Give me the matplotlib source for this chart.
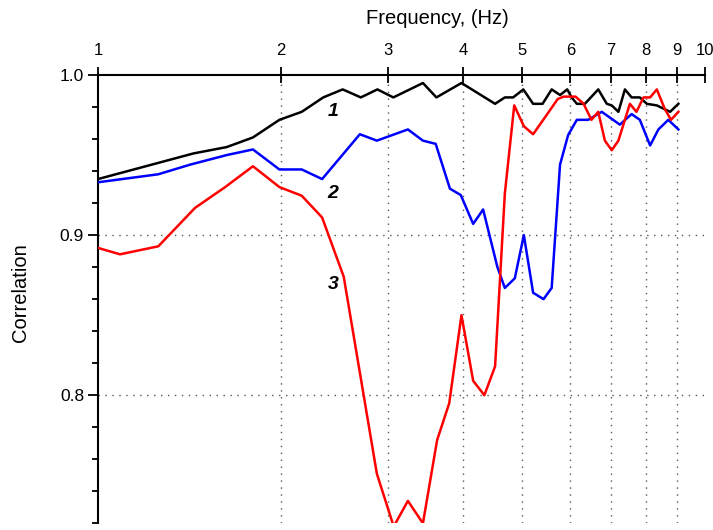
import matplotlib
matplotlib.use("Agg")
import matplotlib.pyplot as plt
from matplotlib.ticker import FixedLocator, NullLocator, MultipleLocator

plt.rcParams['font.family'] = ['Liberation Sans', 'DejaVu Sans']

# curve 1 (black)
f1 = [1.0, 1.436, 1.63, 1.80, 1.99, 2.166, 2.35, 2.53, 2.71, 2.886, 3.066, 3.43, 3.61, 3.97,
      4.51, 4.68, 4.83, 5.02, 5.21, 5.40, 5.59, 5.77, 5.93, 6.03, 6.15, 6.34, 6.67, 6.89,
      7.02, 7.20, 7.38, 7.57, 7.81, 8.02, 8.33, 8.76, 9.04]
c1 = [0.935, 0.951, 0.955, 0.961, 0.972, 0.977, 0.986, 0.991, 0.986, 0.991, 0.986, 0.995, 0.986, 0.995,
      0.982, 0.986, 0.986, 0.991, 0.982, 0.982, 0.991, 0.9875, 0.991, 0.986, 0.982, 0.982, 0.991, 0.982,
      0.981, 0.977, 0.991, 0.986, 0.986, 0.982, 0.981, 0.977, 0.982]

# curve 2 (blue)
f2 = [1.0, 1.257, 1.418, 1.63, 1.80, 1.99, 2.166, 2.34, 2.70, 2.88, 3.24, 3.43, 3.60, 3.80, 3.96,
      4.15, 4.31, 4.55, 4.68, 4.86, 5.03, 5.21, 5.42, 5.59, 5.77, 5.95, 6.15, 6.42, 6.76, 7.24,
      7.57, 7.81, 8.12, 8.38, 8.70, 9.04]
c2 = [0.933, 0.938, 0.944, 0.950, 0.9535, 0.941, 0.941, 0.935, 0.963, 0.959, 0.966, 0.959, 0.957, 0.929, 0.925,
      0.907, 0.916, 0.880, 0.867, 0.873, 0.900, 0.864, 0.860, 0.867, 0.944, 0.9625, 0.972, 0.972, 0.977, 0.969,
      0.9756, 0.972, 0.956, 0.966, 0.972, 0.966]

# curve 3 (red)
f3 = [1.0, 1.087, 1.257, 1.445, 1.62, 1.80, 1.99, 2.166, 2.34, 2.54, 2.88, 3.07, 3.24, 3.43, 3.62,
      3.79, 3.97, 4.15, 4.33, 4.51, 4.68, 4.85, 5.03, 5.21, 5.46, 5.72, 5.85, 6.12, 6.31, 6.50,
      6.67, 6.84, 7.02, 7.20, 7.52, 7.71, 7.92, 8.12, 8.33, 8.58, 8.79, 9.04]
c3 = [0.892, 0.888, 0.893, 0.917, 0.930, 0.943, 0.930, 0.9246, 0.911, 0.874, 0.751, 0.718, 0.734, 0.720, 0.772,
      0.795, 0.850, 0.809, 0.800, 0.818, 0.926, 0.981, 0.968, 0.963, 0.974, 0.985, 0.9865, 0.9865, 0.982, 0.972,
      0.977, 0.959, 0.953, 0.959, 0.982, 0.977, 0.986, 0.986, 0.991, 0.979, 0.972, 0.977]

xticks = [1, 2, 3, 4, 5, 6, 7, 8, 9, 10]
yticks = [0.8, 0.9, 1.0]
curve_labels = ['1', '2', '3']
label_pos = [(2.44, 0.977), (2.44, 0.926), (2.44, 0.869)]

fig = plt.figure(figsize=(7.13, 5.30), dpi=100)
ax = fig.add_axes([98 / 713, 1 - 523.3 / 530, 607 / 713, (523.3 - 75) / 530])

ax.plot(f1, c1, color='black', lw=1.8, zorder=3)
ax.plot(f2, c2, color='#0000ff', lw=1.8, zorder=4)
ax.plot(f3, c3, color='#ff0000', lw=1.8, zorder=5)

for lab, (x, y) in zip(curve_labels, label_pos):
    ax.text(x, y, lab, fontsize=14, fontweight='bold', fontstyle='italic',
            ha='center', va='center', zorder=6)

ax.set_xscale('log')
ax.set_xlim(1, 10)
ax.set_ylim(0.72, 1.0)

ax.xaxis.set_major_locator(FixedLocator(xticks))
ax.xaxis.set_minor_locator(NullLocator())
ax.set_xticklabels([str(t) for t in xticks])
ax.xaxis.tick_top()
ax.xaxis.set_label_position('top')
ax.tick_params(axis='x', which='major', direction='inout', length=11, width=1.3,
               labelsize=12, pad=7)

ax.yaxis.set_major_locator(FixedLocator(yticks))
ax.yaxis.set_minor_locator(MultipleLocator(0.02))
ax.set_yticklabels(['0.8', '0.9', '1.0'])
ax.tick_params(axis='y', which='major', direction='out', length=7, width=1.3,
               labelsize=12.5, pad=3)
ax.tick_params(axis='y', which='minor', direction='out', length=4, width=1.3)

for s in ['right', 'bottom']:
    ax.spines[s].set_visible(False)
for s in ['left', 'top']:
    ax.spines[s].set_linewidth(1.5)

# dotted grid
for x in xticks[1:-1]:
    ax.axvline(x, color='#555555', lw=1, ls=(0, (1, 4)), zorder=1)
for y in [0.8, 0.9]:
    ax.axhline(y, color='#555555', lw=1, ls=(0, (1, 4)), zorder=1)

ax.set_xlabel('Frequency, (Hz)', fontsize=14.5, va='center', ha='center')
ax.xaxis.set_label_coords(0.559, 1.125)
ax.set_ylabel('Correlation', fontsize=14.5, va='center', ha='center')
ax.yaxis.set_label_coords(-0.127, 0.514)

fig.savefig('out.png', dpi=100)
